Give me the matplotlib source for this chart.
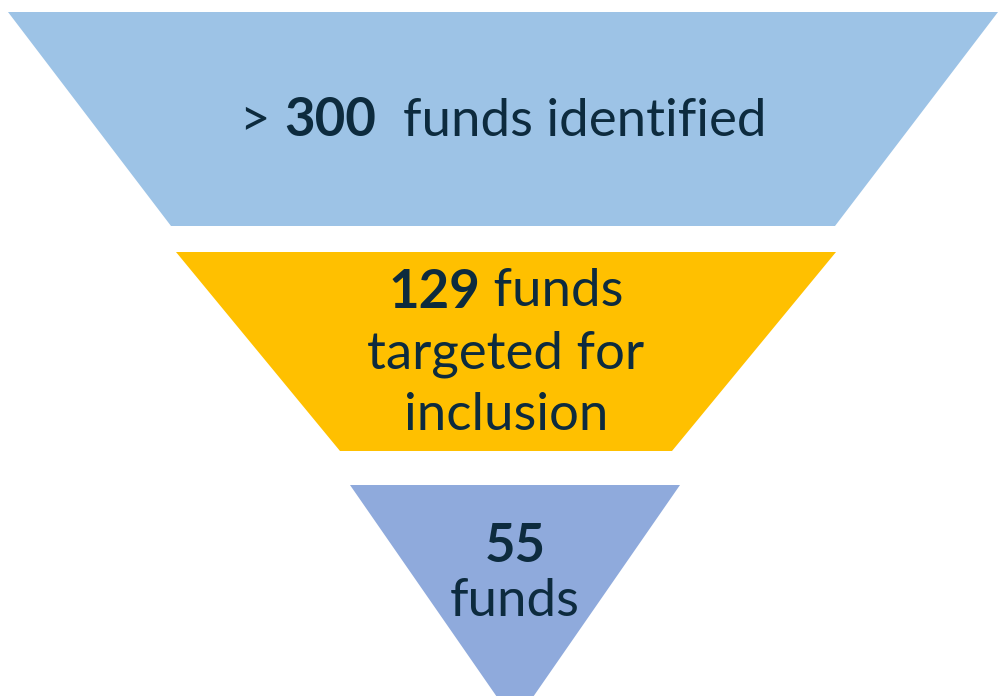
import matplotlib
matplotlib.use("Agg")
import matplotlib.pyplot as plt
from matplotlib.patches import Polygon

# funnel stages (pixel-ish units of the slide)
stage_colors = ["#9DC3E6", "#FFC000", "#8FAADC"]
top_y = [12, 252, 485]
bot_y = [226, 451, 723]
top_half = [495, 330, 165]
bot_half = [332, 166, 0]
center_x = [503, 506, 515]

# label lines: list of (text, weight) pieces per line
labels = [
    [[("> ", "normal"), ("300", "bold"), ("  funds identified", "normal")]],
    [[("129", "bold"), (" funds", "normal")],
     [("targeted for", "normal")],
     [("inclusion", "normal")]],
    [[("55", "bold")], [("funds", "normal")]],
]
label_y = [[121], [292, 354, 416], [546, 601]]
text_color = "#0D2B3E"
fs = 38

fig = plt.figure(figsize=(9.98, 6.96), dpi=100)
ax = fig.add_axes([0, 0, 1, 1])
ax.set_xlim(0, 998)
ax.set_ylim(696, 0)
ax.axis("off")

for i in range(3):
    cx = center_x[i]
    pts = [(cx - top_half[i], top_y[i]), (cx + top_half[i], top_y[i]),
           (cx + bot_half[i], bot_y[i]), (cx - bot_half[i], bot_y[i])]
    ax.add_patch(Polygon(pts, closed=True, facecolor=stage_colors[i], edgecolor="none"))

fig.canvas.draw()
r = fig.canvas.get_renderer()
inv = ax.transData.inverted()

def width_of(s, w):
    t = ax.text(0, 0, s, fontsize=fs, fontweight=w, family="Lato")
    bb = t.get_window_extent(renderer=r)
    t.remove()
    return bb.width

for i in range(3):
    cx = center_x[i]
    for line, y in zip(labels[i], label_y[i]):
        widths = [width_of(s, w) for s, w in line]
        total = sum(widths)
        x0 = ax.transData.transform((cx, y))[0] - total / 2
        for (s, w), wd in zip(line, widths):
            xd = inv.transform((x0, 0))[0]
            ax.text(xd, y, s, fontsize=fs, fontweight=w, family="Lato",
                    color=text_color, ha="left", va="center")
            x0 += wd

fig.savefig("out.png", dpi=100)
